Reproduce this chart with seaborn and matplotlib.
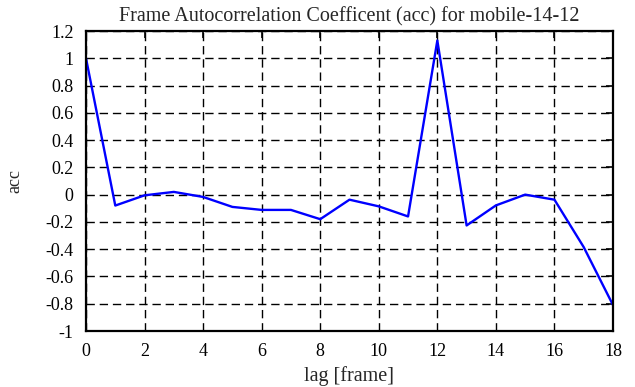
import numpy as np
import pandas as pd
import seaborn as sns
import matplotlib
matplotlib.use("Agg")
import matplotlib.pyplot as plt
from matplotlib.ticker import FuncFormatter

lags = [0, 1, 2, 3, 4, 5, 6, 7, 8, 9, 10, 11, 12, 13, 14, 15, 16, 17, 18]
acc = [1.0, -0.08, -0.005, 0.02, -0.017, -0.09, -0.112, -0.112, -0.18, -0.037,
       -0.086, -0.16, 1.13, -0.226, -0.079, 0.0, -0.037, -0.385, -0.81]
title = "Frame Autocorrelation Coefficent (acc) for mobile-14-12"
xlabel = "lag [frame]"
ylabel = "acc"

sns.set_style("white")
plt.rcParams['font.family'] = ['Liberation Serif', 'DejaVu Serif']
plt.rcParams['axes.unicode_minus'] = False

df = pd.DataFrame({"lag": lags, "acc": acc})


def fmt(v, p):
    v = round(v, 1)
    if abs(v) < 1e-9:
        v = 0.0
    return "%g" % v


fig = plt.figure(figsize=(6.35, 3.87), dpi=100)
ax = fig.add_axes([86/635, 1-331/387, (613-86)/635, (331-31)/387])
sns.lineplot(data=df, x="lag", y="acc", ax=ax, color="#0000ff", linewidth=1.7)

ax.set_xlim(0, 18)
ax.set_ylim(-1, 1.2)
ax.set_xticks(np.arange(0, 19, 2))
ax.set_yticks(np.round(np.arange(-1, 1.21, 0.2), 1))
ax.yaxis.set_major_formatter(FuncFormatter(fmt))
ax.grid(True, color="black", linestyle=(0, (6, 3.5)), linewidth=1.0)
for s in ax.spines.values():
    s.set_visible(True)
    s.set_color("black")
    s.set_linewidth(1.6)
ax.tick_params(direction="in", length=5, width=1.2, top=True, right=True,
               labelsize=13, colors="black")
ax.tick_params(axis="x", pad=9)
ax.tick_params(axis="y", pad=9)
ax.set_title(title, fontsize=14.5, pad=7)
ax.set_xlabel(xlabel, fontsize=14.5, labelpad=4)
ax.set_ylabel(ylabel, fontsize=13, labelpad=16)

fig.savefig("out.png", dpi=100)
